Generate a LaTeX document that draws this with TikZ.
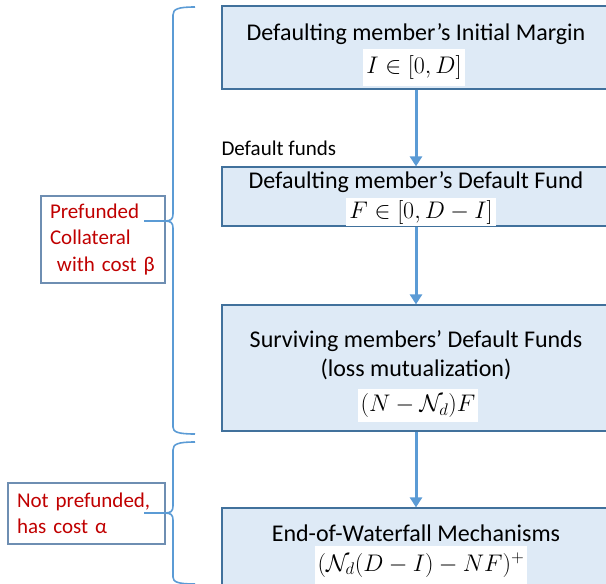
\RequirePackage{fix-cm}
\documentclass[tikz,border=0pt]{standalone}
\usepackage{fontspec}
\setmainfont{Carlito}
\usepackage{amssymb}
\usetikzlibrary{calc, shapes, arrows.meta}
\definecolor{boxfill}{RGB}{222,234,246}
\definecolor{boxline}{RGB}{65,113,156}
\definecolor{flowblue}{RGB}{91,155,213}
\definecolor{noteline}{RGB}{110,142,178}
\definecolor{notered}{RGB}{192,0,0}
\tikzset{
  stage/.style={draw=boxline, fill=boxfill, line width=1.2pt, minimum width=388pt},
  title/.style={inner ysep=0pt, align=center},
  formula/.style={fill=white, inner xsep=3pt, inner ysep=0pt},
  flow/.style={flowblue, line width=3pt, -{Triangle[length=10pt,width=12pt]}},
  brace/.style={flowblue, line width=1.6pt},
  note/.style={draw=noteline, line width=1.3pt, text=notered, align=left, inner xsep=9pt}
}

\begin{document}
\begin{tikzpicture}[x=1pt, y=-1pt]
\newcommand{\myfontbox}{\fontsize{24}{29}\selectfont}
\newcommand{\myfontnote}{\fontsize{21}{26.5}\selectfont}
\useasboundingbox (0,0) rectangle (606,584);
%Stage 1: initial margin
\coordinate (c1) at (416,47.5);
\node [stage, minimum height=83pt] (margin) at (c1) {};
\node [title, font=\myfontbox] (margintitle) at (416,34) {Defaulting member’s Initial Margin};
\node [formula, font=\myfontbox, minimum height=37pt] (marginmath) at (414,67) {$I\in[0,D]$};
%Stage 2: own default fund
\coordinate (c2) at (416,196.5);
\node [stage, minimum height=59pt] (fund) at (c2) {};
\node [title, font=\myfontbox] (fundtitle) at (416,182) {Defaulting member’s Default Fund};
\node [formula, font=\myfontbox, minimum height=28pt] (fundmath) at (421,212) {$F\in[0,D-I]$};
%Stage 3: surviving members
\coordinate (c3) at (416,368);
\node [stage, minimum height=126pt] (mutual) at (c3) {};
\node [title, font=\myfontbox] (mutualtitle) at (416,355) {Surviving members’ Default Funds\\(loss mutualization)};
\node [formula, font=\myfontbox, minimum height=33pt] (mutualmath) at (418,405.5) {$(N-\mathcal{N}_d)F$};
%Stage 4: end of waterfall
\coordinate (c4) at (416,554);
\node [stage, minimum height=92pt] (tail) at (c4) {};
\node [title, font=\myfontbox] (tailtitle) at (416,533) {End-of-Waterfall Mechanisms};
\node [formula, font=\myfontbox, minimum height=38pt] (tailmath) at (421,565) {$(\mathcal{N}_d(D-I)-NF)^+$};
%Arrows down the waterfall
\draw [flow] (margin.south) -- (fund.north);
\draw [flow] (fund.south) -- (mutual.north);
\draw [flow] (mutual.south) -- (tail.north);
\node [anchor=west, font=\myfontnote] (fundlabel) at (218,148) {Default funds};
%Left notes
\node [note, font=\myfontnote, minimum width=124pt, minimum height=87pt, text width=106pt] (prefunded) at (103,239.5) {Prefunded\\Collateral\\\ with cost β};
\node [note, font=\myfontnote, minimum width=157pt, minimum height=61pt, text width=139pt] (unfunded) at (86.5,513.5) {Not prefunded,\\has cost α};
%Brace for prefunded part
\coordinate (b1top) at (195,7);
\coordinate (b1tip) at (144,221);
\coordinate (b1bot) at (195,434);
\draw [brace] (b1top) .. controls (178,7) and (173,9) .. (173,15) -- (173,214) .. controls (173,219) and (171,221) .. (165,221) -- (b1tip);
\draw [brace] (165,221) .. controls (171,221) and (173,223) .. (173,228) -- (173,427) .. controls (173,432) and (178,434) .. (b1bot);
%Brace for not prefunded part
\coordinate (b2top) at (195,442);
\coordinate (b2tip) at (144,513);
\coordinate (b2bot) at (195,584);
\draw [brace] (b2top) .. controls (178,442) and (173,444) .. (173,450) -- (173,506) .. controls (173,511) and (171,513) .. (165,513) -- (b2tip);
\draw [brace] (165,513) .. controls (171,513) and (173,515) .. (173,520) -- (173,577) .. controls (173,582) and (178,584) .. (b2bot);
\end{tikzpicture}
\end{document}
